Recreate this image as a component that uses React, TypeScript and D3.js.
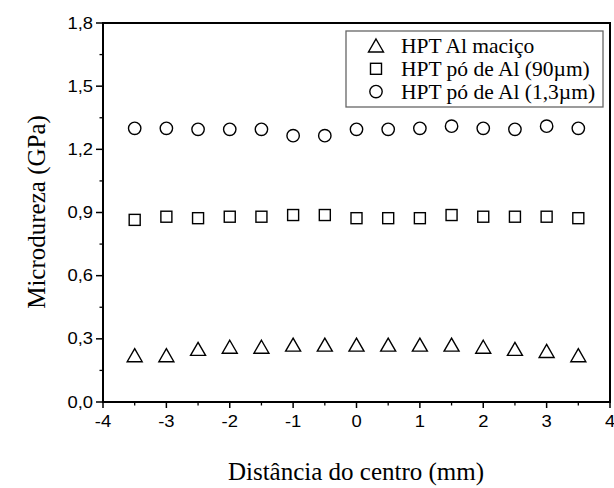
import * as d3 from 'd3'

const positions = [-3.5, -3, -2.5, -2, -1.5, -1, -0.5, 0, 0.5, 1, 1.5, 2, 2.5, 3, 3.5]
const macico = [0.22, 0.22, 0.25, 0.26, 0.26, 0.27, 0.27, 0.27, 0.27, 0.27, 0.27, 0.26, 0.25, 0.24, 0.22]
const po90 = [0.865, 0.88, 0.873, 0.88, 0.88, 0.888, 0.888, 0.873, 0.873, 0.873, 0.888, 0.88, 0.88, 0.88, 0.873]
const po13 = [1.3, 1.3, 1.295, 1.295, 1.295, 1.265, 1.265, 1.295, 1.295, 1.3, 1.31, 1.3, 1.295, 1.31, 1.3]
const xTicks = [-4, -3, -2, -1, 0, 1, 2, 3, 4]
const yTicks = [0, 0.3, 0.6, 0.9, 1.2, 1.5, 1.8]
const legendLabels = ['HPT Al maciço', 'HPT pó de Al (90µm)', 'HPT pó de Al (1,3µm)']

const width = 614
const height = 488
const margin = { top: 23, right: 4, bottom: 86, left: 103 }

const x = d3.scaleLinear().domain([-4, 4]).range([margin.left, width - margin.right])
const y = d3.scaleLinear().domain([0, 1.8]).range([height - margin.bottom, margin.top])

const fmt = (v: number) => v.toFixed(1).replace('.', ',')

function Marker({ kind, cx, cy }: { kind: string; cx: number; cy: number }) {
  const common = { fill: 'none', stroke: '#000', strokeWidth: 1.4 }
  if (kind === 'triangle') {
    // equilateral-ish, ~15px wide
    const pts = [
      [cx, cy - 7],
      [cx + 7.5, cy + 6],
      [cx - 7.5, cy + 6],
    ]
    return <polygon points={pts.map(p => p.join(',')).join(' ')} {...common} />
  }
  if (kind === 'square') {
    return <rect x={cx - 5.5} y={cy - 5.5} width={11} height={11} {...common} />
  }
  return <circle cx={cx} cy={cy} r={6.2} {...common} />
}

const series = [
  { kind: 'triangle', values: macico },
  { kind: 'square', values: po90 },
  { kind: 'circle', values: po13 },
]

export default function App() {
  const minorX = d3.range(-3.5, 4, 1)
  const minorY = d3.range(0.15, 1.8, 0.3)
  const axisFont = '"Liberation Sans", Arial, sans-serif'
  const serif = '"Liberation Serif", "Times New Roman", serif'
  const bottom = y(0)
  const left = x(-4)

  return (
    <svg
      width={width}
      height={height}
      style={{ position: 'absolute', left: 0, top: 0, background: '#fff' }}
    >
      {yTicks.map(v => (
        <g key={`y${v}`}>
          <line x1={left - 7} x2={left} y1={y(v)} y2={y(v)} stroke="#000" strokeWidth={1.5} />
          <text
            transform={`translate(${left - 10},${y(v) + 5.5}) scale(1.15,1)`}
            textAnchor="end"
            fontFamily={axisFont}
            fontSize={16}
            fill="#000"
          >
            {fmt(v)}
          </text>
        </g>
      ))}
      {minorY.map(v => (
        <line key={`my${v}`} x1={left - 3.5} x2={left} y1={y(v)} y2={y(v)} stroke="#000" strokeWidth={1.3} />
      ))}

      {xTicks.map(v => (
        <g key={`x${v}`}>
          <line x1={x(v)} x2={x(v)} y1={bottom} y2={bottom + 6} stroke="#000" strokeWidth={1.5} />
          <text
            transform={`translate(${x(v)},${bottom + 25}) scale(1.15,1)`}
            textAnchor="middle"
            fontFamily={axisFont}
            fontSize={16}
            fill="#000"
          >
            {v}
          </text>
        </g>
      ))}
      {minorX.map(v => (
        <line key={`mx${v}`} x1={x(v)} x2={x(v)} y1={bottom} y2={bottom + 3.5} stroke="#000" strokeWidth={1.3} />
      ))}

      {/* frame */}
      <rect
        x={left}
        y={y(1.8)}
        width={x(4) - left}
        height={bottom - y(1.8)}
        fill="none"
        stroke="#000"
        strokeWidth={2}
      />

      {series.map(s =>
        s.values.map((v, i) => (
          <Marker key={`${s.kind}${i}`} kind={s.kind} cx={x(positions[i])} cy={y(v)} />
        )),
      )}

      {/* legend */}
      <rect x={346} y={31} width={257} height={76} fill="#fff" stroke="#666" strokeWidth={1.3} />
      {legendLabels.map((label, i) => (
        <g key={label}>
          <Marker kind={series[i].kind} cx={376} cy={46 + i * 22.8} />
          <text
            x={401}
            y={53 + i * 22.8}
            fontFamily={serif}
            fontSize={21.5}
            fill="#000"
          >
            {label}
          </text>
        </g>
      ))}

      <text
        transform={`translate(45,212) rotate(-90)`}
        textAnchor="middle"
        fontFamily={serif}
        fontSize={25}
        fill="#000"
      >
        Microdureza (GPa)
      </text>
      <text
        x={356}
        y={480}
        textAnchor="middle"
        fontFamily={serif}
        fontSize={25}
        fill="#000"
      >
        Distância do centro (mm)
      </text>
    </svg>
  )
}
